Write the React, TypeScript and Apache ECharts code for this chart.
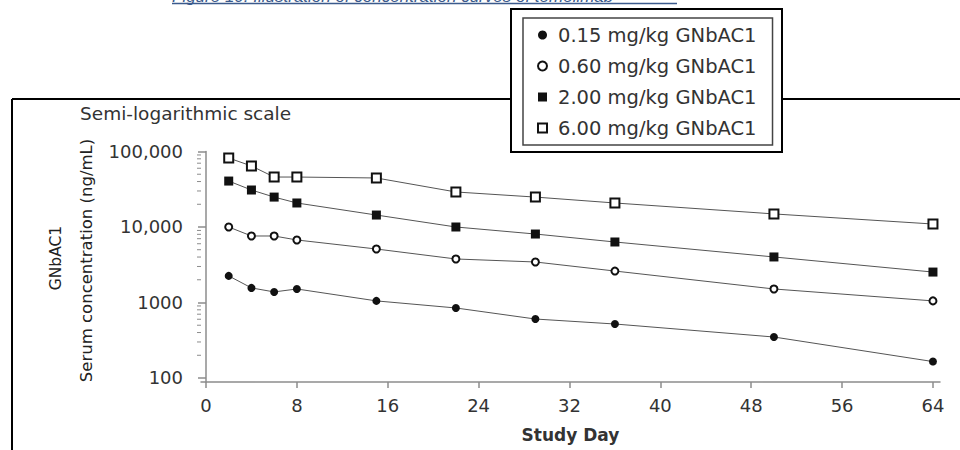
import React, { useEffect, useRef } from "react";
import * as echarts from "echarts";

const days = [2, 4, 6, 8, 15, 22, 29, 36, 50, 64];
const dose015 = [2250, 1560, 1380, 1510, 1050, 846, 604, 519, 349, 165];
const dose060 = [10000, 7600, 7600, 6730, 5110, 3770, 3440, 2610, 1510, 1050];
const dose200 = [40600, 30900, 24900, 20800, 14400, 10000, 8070, 6330, 4010, 2530];
const dose600 = [82000, 64300, 45900, 45900, 44600, 29100, 24900, 20800, 14900, 10950];

const seriesNames = [
  "0.15 mg/kg GNbAC1",
  "0.60 mg/kg GNbAC1",
  "2.00 mg/kg GNbAC1",
  "6.00 mg/kg GNbAC1",
];
const seriesSymbols = ["circle", "emptyCircle", "rect", "emptyRect"];
const seriesSizes = [8, 7, 9, 9];

const xTicks = [0, 8, 16, 24, 32, 40, 48, 56, 64];
const yTicks = [100, 1000, 10000, 100000];
const minorMultipliers = [2, 3, 4, 5, 6, 7, 8, 9];

const FONT = "DejaVu Sans";
const X_MIN = -0.44;
const X_MAX = 64.62;
const Y_MIN = 88.5;
const Y_MAX = 100000;

export default function App() {
  const ref = useRef<HTMLDivElement>(null);

  useEffect(() => {
    if (!ref.current) return;
    const chart = echarts.init(ref.current, null, { renderer: "svg" });

    const allSeries = [dose015, dose060, dose200, dose600];
    const minorValues: number[] = [];
    yTicks.slice(0, -1).forEach((d) =>
      minorMultipliers.forEach((m) => minorValues.push(d * m))
    );

    const lineSeries = allSeries.map((vals, i) => ({
      name: seriesNames[i],
      type: "line",
      data: days.map((d, j) => [d, vals[j]]),
      symbol: seriesSymbols[i],
      symbolSize: seriesSizes[i],
      showSymbol: true,
      lineStyle: { color: "#555", width: 1 },
      itemStyle: { color: "#111", borderWidth: 1.5 },
      z: 3 + i,
    }));

    const option: any = {
      animation: false,
      backgroundColor: "#fff",
      grid: { left: 201, right: 20, top: 151.5, bottom: 68, containLabel: false },
      legend: {
        orient: "vertical",
        left: 523,
        top: 18,
        padding: [7, 16, 7, 14],
        itemGap: 11,
        itemWidth: 9,
        itemHeight: 9,
        symbolKeepAspect: true,
        borderColor: "#444",
        borderWidth: 1.5,
        backgroundColor: "#fff",
        textStyle: {
          fontFamily: FONT,
          fontSize: 19.5,
          color: "#333",
          padding: [0, 0, 0, 6],
        },
        data: seriesNames.map((n, i) => ({ name: n, icon: seriesSymbols[i] })),
        z: 10,
      },
      xAxis: {
        type: "value",
        min: X_MIN,
        max: X_MAX,
        axisLine: { show: true, lineStyle: { color: "#8c8c8c", width: 1.5 } },
        axisTick: {
          show: true,
          length: 6,
          customValues: xTicks,
          lineStyle: { color: "#8c8c8c", width: 1.5 },
        },
        axisLabel: {
          customValues: xTicks,
          margin: 14,
          fontFamily: FONT,
          fontSize: 18,
          color: "#333",
        },
        splitLine: { show: false },
        name: "Study Day",
        nameLocation: "middle",
        nameGap: 44,
        nameTextStyle: { fontFamily: FONT, fontSize: 17, fontWeight: "bold", color: "#333" },
      },
      yAxis: {
        type: "log",
        logBase: 10,
        min: Y_MIN,
        max: Y_MAX,
        axisLine: { show: true, lineStyle: { color: "#8c8c8c", width: 1.5 } },
        axisTick: {
          show: true,
          length: 8,
          customValues: yTicks,
          lineStyle: { color: "#8c8c8c", width: 1.5 },
        },
        axisLabel: {
          customValues: yTicks,
          margin: 18,
          fontFamily: FONT,
          fontSize: 18,
          color: "#333",
          formatter: (v: number) =>
            v >= 10000 ? Math.round(v).toLocaleString("en-US") : String(Math.round(v)),
        },
        splitLine: { show: false },
        minorTick: { show: false },
      },
      graphic: [
        {
          type: "line",
          shape: { x1: 12, y1: 99, x2: 960, y2: 99 },
          style: { stroke: "#000", lineWidth: 2 },
          z: 0,
        },
        {
          type: "line",
          shape: { x1: 12, y1: 99, x2: 12, y2: 450 },
          style: { stroke: "#000", lineWidth: 2 },
          z: 0,
        },
        {
          type: "rect",
          shape: { x: 511, y: 9, width: 271, height: 143 },
          style: { fill: "#fff", stroke: "#000", lineWidth: 2 },
          z: 1,
        },
        {
          type: "text",
          x: 172,
          y: 5,
          style: {
            text: "Figure 10: Illustration of concentration curves of temelimab",
            font: "italic 17px 'Liberation Sans'",
            fill: "#3b5a8c",
            verticalAlign: "bottom",
            align: "left",
          },
          z: 1,
        },
        {
          type: "line",
          shape: { x1: 172, y1: 3.5, x2: 677, y2: 3.5 },
          style: { stroke: "#3b5a8c", lineWidth: 1.5 },
          z: 1,
        },
        {
          type: "text",
          x: 80,
          y: 113,
          style: {
            text: "Semi-logarithmic scale",
            font: `18.5px '${FONT}'`,
            fill: "#333",
            verticalAlign: "middle",
            align: "left",
          },
          z: 1,
        },
        {
          type: "text",
          x: 56,
          y: 258,
          rotation: Math.PI / 2,
          style: {
            text: "GNbAC1",
            font: `15.5px '${FONT}'`,
            fill: "#222",
            verticalAlign: "middle",
            align: "center",
          },
          z: 1,
        },
        {
          type: "text",
          x: 86,
          y: 260.5,
          rotation: Math.PI / 2,
          style: {
            text: "Serum concentration (ng/mL)",
            font: `16.5px '${FONT}'`,
            fill: "#222",
            verticalAlign: "middle",
            align: "center",
          },
          z: 1,
        },
      ],
      series: [
        ...lineSeries,
        {
          type: "custom",
          name: "minorTicks",
          silent: true,
          clip: false,
          data: minorValues.map((v) => [X_MIN, v]),
          renderItem: (params: any, api: any) => {
            const p = api.coord([api.value(0), api.value(1)]);
            return {
              type: "line",
              shape: { x1: p[0] - 4, y1: p[1], x2: p[0], y2: p[1] },
              style: { stroke: "#8c8c8c", lineWidth: 1 },
            };
          },
          z: 1,
        },
      ],
    };

    chart.setOption(option);
    return () => chart.dispose();
  }, []);

  return (
    <div
      ref={ref}
      style={{ position: "fixed", left: 0, top: 0, width: 960, height: 450, background: "#fff" }}
    />
  );
}
